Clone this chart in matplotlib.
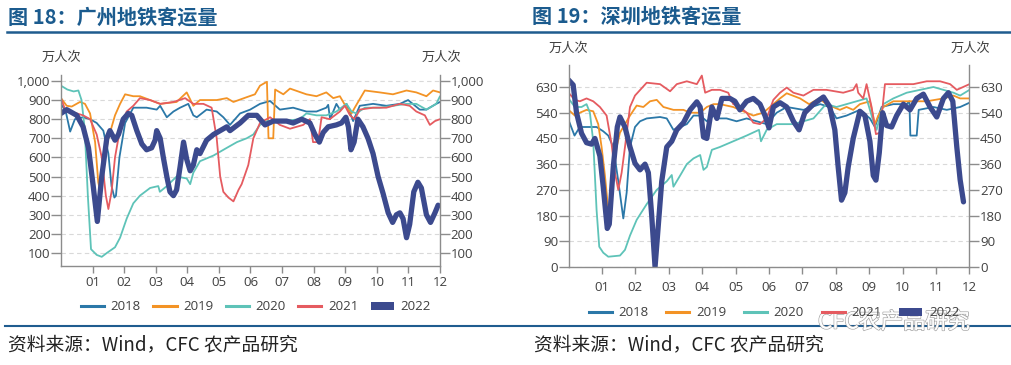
import matplotlib
matplotlib.use("Agg")
import matplotlib.pyplot as plt
from matplotlib.lines import Line2D
from matplotlib.patches import Patch
from matplotlib.ticker import FuncFormatter
import matplotlib.patheffects as pe

plt.rcParams['font.family'] = ['Open Sans', 'Noto Sans CJK SC', 'DejaVu Sans']

# ---------------- data ----------------
years = ['2018', '2019', '2020', '2021', '2022']
month_ticks = [1, 2, 3, 4, 5, 6, 7, 8, 9, 10, 11, 12]
month_labels = ['01', '02', '03', '04', '05', '06', '07', '08', '09', '10', '11', '12']

gz_ticks = [100, 200, 300, 400, 500, 600, 700, 800, 900, 1000]
sz_ticks = [0, 90, 180, 270, 360, 450, 540, 630]

# Guangzhou (x = month position, v = 万人次)
gz_2018_m = [0, 0.15, 0.29, 0.44, 0.7, 0.92, 1.13, 1.34, 1.5, 1.6, 1.69, 1.74, 1.85, 2.03, 2.29, 2.71, 3.03,
             3.14, 3.35, 3.56, 3.77, 4.03, 4.19, 4.3, 4.61, 4.93, 5.14, 5.35, 5.67, 5.99, 6.3, 6.62, 6.93,
             7.35, 7.77, 8.09, 8.4, 8.46, 8.52, 8.72, 8.83, 9.04, 9.25, 9.46, 9.88, 10.3, 10.73, 10.99,
             11.36, 11.57, 11.88, 12]
gz_2018_v = [880, 840, 735, 800, 810, 800, 780, 740, 620, 450, 390, 400, 600, 780, 860, 860, 850,
             870, 810, 840, 860, 880, 820, 810, 850, 840, 810, 770, 830, 850, 880, 895, 850,
             860, 840, 840, 860, 875, 800, 880, 850, 880, 790, 870, 880, 870, 880, 900,
             850, 850, 880, 890]

gz_2019_m = [0, 0.18, 0.34, 0.6, 0.76, 0.92, 1.08, 1.18, 1.22, 1.5, 1.71, 1.87, 2.03, 2.29, 2.5, 3.14, 3.66,
             3.98, 4.19, 4.4, 4.93, 5.25, 5.46, 5.88, 6.14, 6.3, 6.46, 6.52, 6.57, 6.72, 6.78, 7.04, 7.25,
             7.77, 8.09, 8.4, 8.62, 8.83, 9.04, 9.2, 9.3, 9.62, 10.09, 10.51, 10.94, 11.25, 11.57, 11.78, 12]
gz_2019_v = [910, 870, 866, 890, 880, 830, 680, 470, 440, 700, 820, 880, 930, 920, 920, 880, 890,
             940, 870, 900, 900, 910, 890, 915, 930, 975, 990, 995, 700, 700, 955, 930, 960,
             930, 920, 940, 910, 920, 860, 830, 860, 950, 940, 930, 950, 940, 920, 950, 940]

gz_2020_m = [0, 0.2, 0.4, 0.55, 0.65, 0.75, 0.85, 0.95, 1.13, 1.29, 1.45, 1.71, 1.87, 2.08, 2.29, 2.5, 2.82,
             3.08, 3.13, 3.35, 3.66, 3.98, 4.09, 4.19, 4.4, 4.83, 5.25, 5.57, 5.88, 6.09, 6.3, 6.52, 7.04,
             7.56, 7.77, 8.09, 8.4, 8.72, 9.04, 9.2, 9.35, 9.62, 10.09, 10.51, 10.94, 11.25, 11.57, 11.88, 12]
gz_2020_v = [975, 955, 945, 950, 900, 750, 400, 120, 90, 80, 100, 130, 180, 280, 360, 400, 440,
             450, 420, 450, 500, 490, 460, 520, 580, 610, 650, 680, 700, 720, 770, 790, 790,
             800, 830, 820, 820, 840, 880, 840, 830, 860, 860, 870, 880, 880, 850, 880, 920]

gz_2021_m = [0, 0.15, 0.5, 0.7, 0.92, 1.13, 1.29, 1.42, 1.5, 1.6, 1.71, 1.87, 2.08, 2.29, 2.5, 2.82, 3.14,
             3.56, 3.93, 4.19, 4.51, 4.77, 4.93, 5.04, 5.14, 5.3, 5.46, 5.62, 5.72, 5.93, 6.09, 6.3, 6.62,
             6.93, 7.25, 7.67, 7.88, 7.98, 8.14, 8.25, 8.51, 8.67, 8.83, 8.99, 9.15, 9.3, 9.46, 9.88,
             10.3, 10.73, 11.04, 11.25, 11.52, 11.68, 11.84, 12]
gz_2021_v = [910, 840, 830, 820, 800, 720, 600, 400, 330, 420, 600, 750, 840, 870, 910, 900, 880,
             890, 910, 880, 880, 860, 700, 500, 420, 390, 370, 430, 460, 560, 700, 780, 810,
             770, 750, 770, 800, 680, 680, 810, 800, 820, 840, 870, 820, 800, 850, 860,
             860, 880, 870, 840, 820, 770, 790, 800]

gz_2022_m = [0, 0.18, 0.5, 0.7, 0.87, 1.02, 1.15, 1.29, 1.45, 1.55, 1.71, 1.82, 1.97, 2.13, 2.24, 2.4, 2.56,
             2.71, 2.87, 2.98, 3.03, 3.14, 3.24, 3.35, 3.45, 3.56, 3.66, 3.77, 3.88, 3.98, 4.09, 4.19, 4.3,
             4.4, 4.61, 4.83, 5.04, 5.25, 5.35, 5.67, 5.93, 6.2, 6.46, 6.72, 7.14, 7.35, 7.62, 7.88, 8.04,
             8.18, 8.3, 8.46, 8.72, 8.88, 9.02, 9.1, 9.18, 9.28, 9.4, 9.56, 9.72, 9.88, 10.04, 10.2, 10.36,
             10.5, 10.62, 10.73, 10.83, 10.94, 11.04, 11.17, 11.3, 11.41, 11.57, 11.7, 11.84, 11.94]
gz_2022_v = [830, 850, 820, 760, 650, 450, 265, 500, 700, 740, 690, 720, 800, 830, 820, 740, 670,
             640, 650, 690, 740, 700, 600, 500, 420, 400, 430, 550, 680, 590, 530, 560, 640,
             620, 690, 720, 740, 760, 740, 780, 820, 820, 770, 790, 790, 780, 800, 780, 720,
             680, 730, 760, 770, 780, 810, 760, 640, 680, 800, 760, 700, 620, 500, 410, 310,
             260, 300, 310, 280, 180, 250, 420, 470, 440, 300, 260, 310, 350]

# Shenzhen
sz_2018_m = [0, 0.18, 0.34, 0.84, 1.04, 1.19, 1.34, 1.49, 1.64, 1.74, 1.84, 1.99, 2.14, 2.34, 2.74, 2.94,
             3.14, 3.34, 3.54, 3.74, 3.94, 4.14, 4.34, 4.53, 4.73, 5.03, 5.33, 5.63, 5.93, 6.23, 6.53,
             7.03, 7.53, 7.82, 8.02, 8.32, 8.52, 8.72, 9.02, 9.17, 9.37, 9.72, 10.12, 10.2, 10.23, 10.42,
             10.48, 10.92, 11.32, 11.72, 12]
sz_2018_v = [515, 460, 490, 490, 475, 460, 420, 300, 170, 260, 420, 490, 510, 520, 525, 520,
             480, 490, 500, 530, 530, 510, 530, 520, 520, 510, 520, 510, 500, 540, 560,
             550, 570, 560, 520, 530, 540, 550, 520, 490, 560, 570, 570, 580, 460, 460,
             550, 560, 550, 560, 575]

sz_2019_m = [0, 0.19, 0.34, 0.54, 0.74, 0.89, 0.99, 1.09, 1.19, 1.24, 1.34, 1.44, 1.54, 1.69, 1.84, 2.04,
             2.24, 2.44, 2.64, 2.84, 3.14, 3.44, 3.64, 3.94, 4.14, 4.34, 4.53, 4.93, 5.33, 5.53, 5.83,
             6.13, 6.33, 6.53, 6.93, 7.2, 7.5, 7.72, 8.12, 8.32, 8.52, 8.72, 9.02, 9.17, 9.27, 9.42, 9.72,
             10.22, 10.72, 11.22, 11.52, 11.72, 12]
sz_2019_v = [550, 530, 540, 550, 545, 500, 420, 320, 200, 180, 330, 420, 470, 500, 530, 565,
             560, 580, 585, 560, 550, 550, 540, 540, 560, 570, 570, 560, 540, 530, 540,
             570, 590, 608, 590, 570, 590, 570, 550, 560, 550, 570, 580, 500, 530, 560, 580,
             580, 580, 590, 600, 590, 590]

sz_2020_m = [0, 0.19, 0.39, 0.54, 0.64, 0.74, 0.84, 0.92, 1.04, 1.19, 1.54, 1.69, 1.84, 2.04, 2.34, 2.64,
             2.94, 3.09, 3.14, 3.34, 3.54, 3.74, 3.94, 4.04, 4.14, 4.29, 4.53, 4.93, 5.33, 5.7, 5.76,
             5.93, 6.23, 6.73, 7.03, 7.33, 7.63, 7.72, 8.02, 8.32, 8.62, 8.92, 9.12, 9.22, 9.42, 9.72,
             10.12, 10.52, 10.92, 11.22, 11.52, 11.72, 12]
sz_2020_v = [590, 560, 560, 570, 540, 440, 200, 71, 50, 36, 40, 60, 110, 165, 220, 270,
             300, 322, 281, 320, 360, 380, 392, 340, 350, 410, 420, 440, 460, 480, 440,
             480, 500, 500, 510, 520, 560, 570, 560, 570, 580, 590, 510, 480, 570, 590,
             610, 620, 630, 620, 610, 600, 620]

sz_2021_m = [0, 0.19, 0.34, 0.54, 0.74, 0.94, 1.14, 1.29, 1.39, 1.49, 1.59, 1.69, 1.84, 1.99, 2.34, 2.74,
             3.04, 3.24, 3.54, 3.84, 3.99, 4.09, 4.29, 4.53, 4.78, 4.93, 5.13, 5.33, 5.53, 5.73, 5.93,
             6.13, 6.33, 6.53, 6.73, 7.03, 7.33, 7.72, 8.22, 8.52, 8.62, 8.67, 8.82, 8.92, 9.07, 9.2,
             9.32, 9.47, 9.92, 10.32, 10.72, 11.12, 11.42, 11.62, 12]
sz_2021_v = [610, 585, 580, 590, 580, 560, 530, 430, 330, 270, 330, 420, 560, 600, 645, 640,
             615, 640, 650, 640, 670, 610, 620, 620, 610, 570, 560, 540, 505, 500, 520,
             585, 610, 628, 610, 600, 620, 620, 610, 620, 640, 610, 590, 640, 560, 465,
             470, 640, 640, 640, 650, 650, 640, 620, 640]

sz_2022_m = [0, 0.14, 0.24, 0.39, 0.54, 0.69, 0.79, 0.94, 1.04, 1.16, 1.22, 1.34, 1.46, 1.54, 1.69, 1.84,
             1.99, 2.14, 2.29, 2.39, 2.49, 2.59, 2.69, 2.79, 2.94, 3.09, 3.24, 3.44, 3.64, 3.84, 3.94,
             4.04, 4.14, 4.29, 4.44, 4.59, 4.83, 4.98, 5.13, 5.33, 5.53, 5.73, 5.88, 6.0, 6.13, 6.33,
             6.53, 6.73, 6.9, 7.07, 7.33, 7.63, 7.82, 7.97, 8.07, 8.17, 8.27, 8.37, 8.52, 8.72, 8.87,
             9.02, 9.12, 9.2, 9.3, 9.4, 9.52, 9.67, 9.82, 10.02, 10.22, 10.42, 10.62, 10.82, 11.02,
             11.22, 11.37, 11.5, 11.62, 11.72, 11.82]
sz_2022_v = [655, 637, 540, 468, 435, 430, 450, 388, 280, 135, 150, 350, 490, 525, 490, 420,
             363, 340, 360, 330, 180, 0, 150, 300, 420, 440, 480, 505, 550, 578, 560,
             455, 450, 560, 520, 590, 590, 580, 550, 580, 590, 570, 530, 487, 560, 575,
             560, 510, 480, 540, 570, 595, 560, 480, 350, 234, 260, 350, 450, 545, 530,
             440, 320, 304, 400, 540, 495, 490, 530, 570, 550, 590, 605, 560, 525,
             590, 610, 580, 420, 305, 228]

gz_series = [(gz_2018_m, gz_2018_v), (gz_2019_m, gz_2019_v), (gz_2020_m, gz_2020_v),
             (gz_2021_m, gz_2021_v), (gz_2022_m, gz_2022_v)]
sz_series = [(sz_2018_m, sz_2018_v), (sz_2019_m, sz_2019_v), (sz_2020_m, sz_2020_v),
             (sz_2021_m, sz_2021_v), (sz_2022_m, sz_2022_v)]

# ---------------- style ----------------
colors = ['#2B78A8', '#F39325', '#5EC3B8', '#E55B60', '#3C4A8E']
widths = [1.3, 1.3, 1.3, 1.3, 3.8]
title_color = '#1B5B8E'
text_color = '#404040'
axis_color = '#8C8C8C'

W, H = 1012, 365
fig = plt.figure(figsize=(W / 100, H / 100), dpi=100)


def box(l, r, t, b):
    return [l / W, 1 - b / H, (r - l) / W, (b - t) / H]


def style_axes(ax, ticks, ylim, xpad):
    ax.set_xlim(0, 12)
    ax.set_ylim(*ylim)
    ax.set_xticks(month_ticks)
    ax.set_xticklabels(month_labels)
    ax.set_yticks(ticks)
    ax.yaxis.set_major_formatter(FuncFormatter(lambda v, p: f'{v:,.0f}'))
    ax.spines['top'].set_visible(False)
    for s in ['left', 'right', 'bottom']:
        ax.spines[s].set_color(axis_color)
        ax.spines[s].set_linewidth(1.0)
    ax.tick_params(axis='y', which='both', left=True, right=True, labelleft=True, labelright=True,
                   direction='out', length=7, width=1.0, color=axis_color, pad=0.5,
                   labelsize=9.5, labelcolor=text_color)
    ax.tick_params(axis='x', direction='out', length=5, width=1.0, color=axis_color, pad=xpad,
                   labelsize=9.5, labelcolor=text_color)
    ax.grid(axis='y', linestyle=(0, (4, 3)), color='#D9D9D9', linewidth=0.8)
    ax.grid(axis='x', visible=False)
    ax.set_axisbelow(True)


ax1 = fig.add_axes(box(61, 440, 75, 266))
ax2 = fig.add_axes(box(568.5, 969.5, 65, 267))

for ax, series in [(ax1, gz_series), (ax2, sz_series)]:
    for (m, v), c, lw in zip(series, colors, widths):
        ax.plot(m, v, color=c, lw=lw, solid_joinstyle='round', solid_capstyle='round')

style_axes(ax1, gz_ticks, (32, 1031), 2.5)
style_axes(ax2, sz_ticks, (0, 707), 5)

# legends
handles = [Line2D([], [], color=c, lw=2.2) for c in colors[:4]] + [Patch(facecolor=colors[4], edgecolor='none')]
for cx, cy, cs in [(256, 307, 0.95), (774, 313, 1.35)]:
    fig.legend(handles, years, loc='center', bbox_to_anchor=(cx / W, 1 - cy / H), ncol=5,
               frameon=False, fontsize=9.5, handlelength=1.75, handleheight=0.5, handletextpad=0.5,
               columnspacing=cs, labelcolor=text_color)

# unit labels
for x, y in [(61, 57), (441, 57), (568, 48), (970, 48)]:
    fig.text(x / W, 1 - y / H, '万人次', ha='center', va='center', fontsize=9.5,
             color=text_color, family=['Noto Sans CJK SC'])

# titles
fig.text(8 / W, 1 - 17 / H, '图 18：广州地铁客运量', ha='left', va='center', fontsize=14.5,
         fontweight='bold', color=title_color, family=['Noto Sans CJK SC'])
fig.text(532 / W, 1 - 16 / H, '图 19：深圳地铁客运量', ha='left', va='center', fontsize=14.5,
         fontweight='bold', color=title_color, family=['Noto Sans CJK SC'])
fig.add_artist(Line2D([7 / W, 1], [1 - 32 / H, 1 - 32 / H], color='#1F5C8F', lw=1.8))

# footer
fig.add_artist(Line2D([5 / W, 1], [1 - 325.5 / H, 1 - 325.5 / H], color='#1F5C8F', lw=1.5))
for x in [8, 534]:
    fig.text(x / W, 1 - 345 / H, '资料来源：Wind，CFC 农产品研究', ha='left', va='center',
             fontsize=13.5, color='#222222', family=['Noto Sans CJK SC'])

# watermark
wm = fig.text(818 / W, 1 - 322 / H, 'CFC农产品研究', ha='left', va='center', fontsize=16,
              color='white', alpha=0.9, family=['Noto Sans CJK SC'])
wm.set_path_effects([pe.withStroke(linewidth=1.2, foreground='#A0A0A0'), pe.Normal()])

fig.savefig('out.png', dpi=100)
